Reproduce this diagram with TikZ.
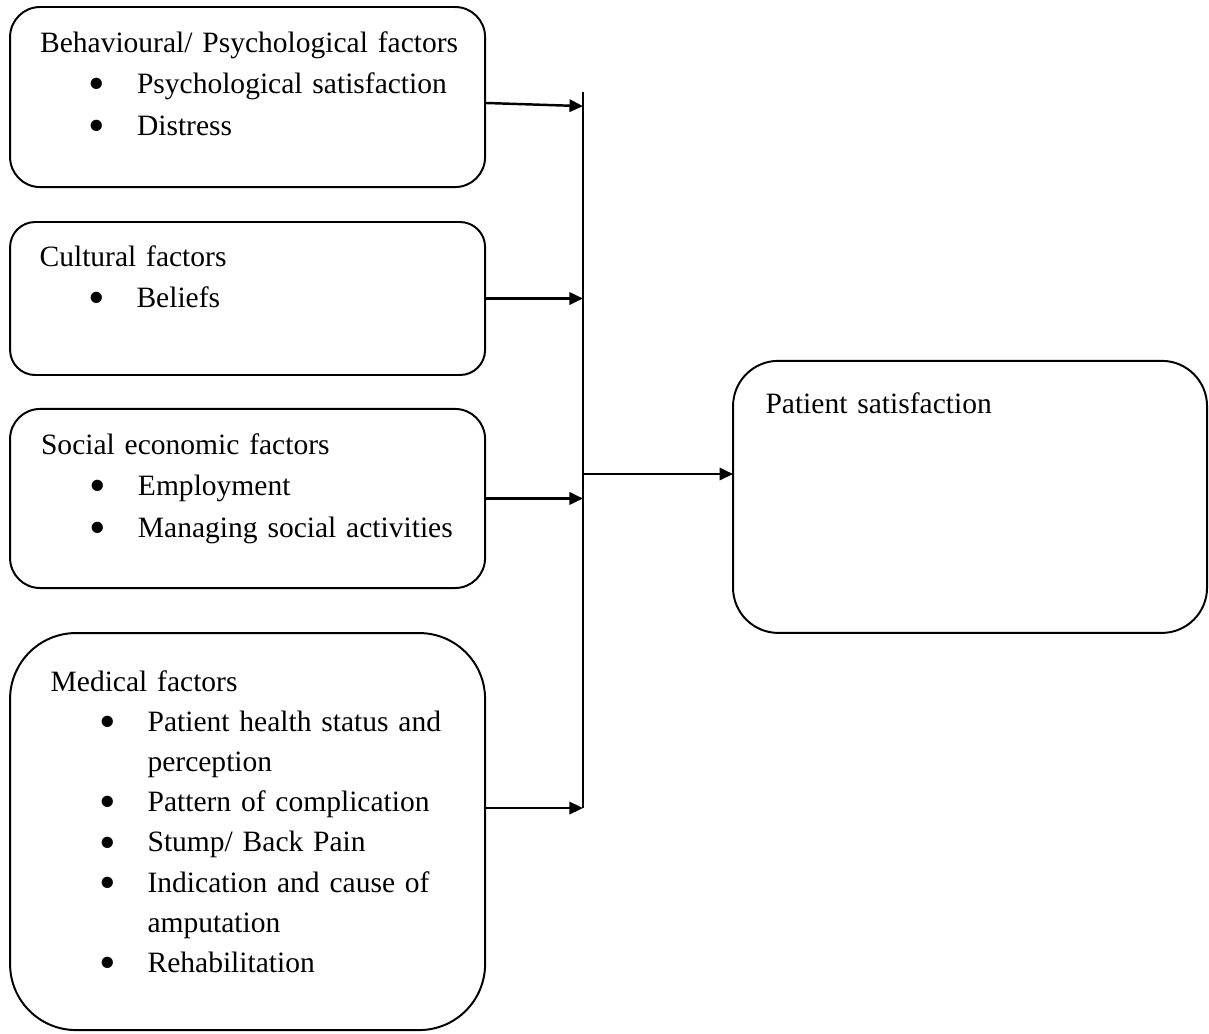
\documentclass[tikz,border=0pt]{standalone}
\usepackage{fontspec}
\setmainfont{Liberation Serif}
\usepackage{graphicx}
\usetikzlibrary{arrows.meta}
\usetikzlibrary{positioning}
\newcommand{\bul}{\hspace*{19.8pt}\makebox[19.6pt][l]{\smash{\raisebox{-2.5pt}{\scalebox{1.6}{\textbullet}}}}}
\newcommand{\cont}{\hspace*{39.4pt}}

\begin{document}
\begin{tikzpicture}[
  box/.style={
    draw,
    rectangle,
    line width=0.8pt,
    minimum width=193.1pt,
    inner sep=0pt,
    outer sep=0pt
  },
  boxtext/.style={
    anchor=base west,
    inner sep=0pt,
    text width=185pt,
    align=left,
    font=\fontsize{12pt}{16.8pt}\selectfont
  },
  arrow/.style={-{Triangle[length=5.5pt,width=5pt]}, line width=1pt}
]
\useasboundingbox (0,0) rectangle (491.5pt,-420.3pt);

\node (Behaviour) [box, anchor=north west, minimum height=73.2pt, rounded corners=12.2pt] at (4.1pt,-2.85pt) {};
\node (Cultural) [box, below=14.2pt of Behaviour, minimum height=62.2pt, rounded corners=10.2pt] {};
\node (Social) [box, below=13.8pt of Cultural, minimum height=72.8pt, rounded corners=12.2pt] {};
\node (Medical) [box, below=18.3pt of Social, minimum height=161.4pt, rounded corners=26.8pt] {};
\node (Satisfaction) [box, anchor=north west, minimum width=192.7pt, minimum height=110.6pt, rounded corners=18.4pt] at (298pt,-146.7pt) {};

% texts inside the boxes
\node (BehaviourText) [boxtext] at ([shift={(12pt,-18.5pt)}]Behaviour.north west) {Behavioural/ Psychological factors\\
  \bul Psychological satisfaction\\
  \bul Distress};
\node (CulturalText) [boxtext] at ([shift={(11.8pt,-17.9pt)}]Cultural.north west) {Cultural factors\\
  \bul Beliefs};
\node (SocialText) [boxtext] at ([shift={(12.4pt,-18.5pt)}]Social.north west) {Social economic factors\\
  \bul Employment\\
  \bul Managing social activities};
\node (MedicalText) [boxtext, font=\fontsize{12pt}{16.35pt}\selectfont] at ([shift={(16.3pt,-23.6pt)}]Medical.north west) {Medical factors\\
  \bul Patient health status and\\
  \cont perception\\
  \bul Pattern of complication\\
  \bul Stump/ Back Pain\\
  \bul Indication and cause of\\
  \cont amputation\\
  \bul Rehabilitation};
\node (SatisfactionText) [boxtext] at ([shift={(13pt,-21.4pt)}]Satisfaction.north west) {Patient satisfaction};

% collecting bar
\coordinate (bartop) at (237pt,-37.4pt);
\coordinate (barbot) at (237pt,-328.5pt);
\draw[line width=0.8pt] (bartop) -- (barbot);

% factors -> bar -> satisfaction
\draw[arrow] ([yshift=-2.4pt]Behaviour.east) -- ([yshift=-3.7pt]Behaviour.east -| bartop);
\draw[arrow] (Cultural.east) -- (Cultural.east -| bartop);
\draw[arrow] (Social.east) -- (Social.east -| bartop);
\draw[arrow] (Medical.east |- barbot) -- (barbot);
\draw[arrow] ([yshift=9.3pt]Satisfaction.west -| bartop) -- ([yshift=9.3pt]Satisfaction.west);

\end{tikzpicture}
\end{document}
